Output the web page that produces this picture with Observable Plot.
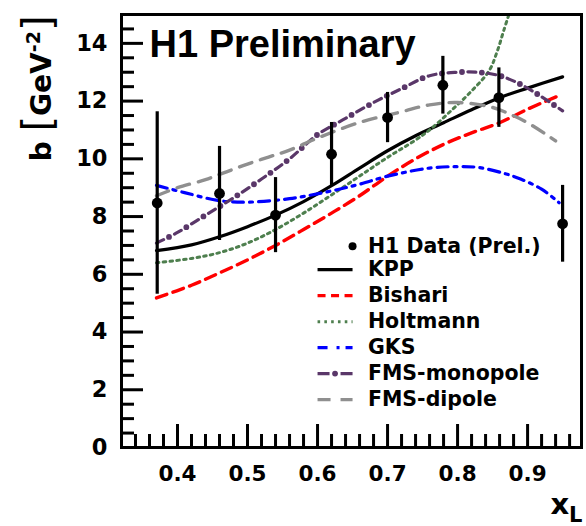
<!DOCTYPE html>
<html>
<head>
<meta charset="utf-8">
<script src="https://cdn.jsdelivr.net/npm/d3@7"></script>
<script src="https://cdn.jsdelivr.net/npm/@observablehq/plot@0.6"></script>
<style>
  html, body { margin: 0; padding: 0; background: #fff; }
  svg { display: block; }
</style>
</head>
<body>
<div id="chart"></div>
<script>
// ---------------- data ----------------
const h1X   = [0.371, 0.460, 0.540, 0.620, 0.700, 0.779, 0.859, 0.950];
const h1B   = [8.47, 8.80, 8.05, 10.16, 11.43, 12.55, 12.12, 7.75];
const h1Err = [3.16, 1.63, 1.30, 1.10, 0.87, 1.00, 1.03, 1.33];

const kppX = [0.37, 0.42, 0.46, 0.50, 0.54, 0.58, 0.62, 0.66, 0.70, 0.74, 0.78, 0.82, 0.86, 0.90, 0.95];
const kppY = [6.82, 7.02, 7.30, 7.65, 8.05, 8.52, 9.07, 9.68, 10.28, 10.80, 11.25, 11.70, 12.12, 12.45, 12.84];

const bishariX = [0.37, 0.42, 0.46, 0.50, 0.54, 0.58, 0.62, 0.66, 0.70, 0.74, 0.78, 0.82, 0.86, 0.90, 0.943];
const bishariY = [5.18, 5.62, 6.05, 6.50, 7.00, 7.55, 8.12, 8.72, 9.40, 10.00, 10.50, 10.90, 11.25, 11.72, 12.17];

const holtmannX = [0.37, 0.42, 0.46, 0.50, 0.54, 0.58, 0.62, 0.66, 0.70, 0.74, 0.76, 0.79, 0.82, 0.845, 0.857, 0.866, 0.876];
const holtmannY = [6.40, 6.55, 6.75, 7.08, 7.55, 8.12, 8.75, 9.40, 10.05, 10.65, 11.00, 11.65, 12.35, 13.05, 13.75, 14.45, 15.2];

const gksX = [0.37, 0.41, 0.46, 0.50, 0.56, 0.62, 0.66, 0.70, 0.76, 0.80, 0.83, 0.866, 0.89, 0.92, 0.945];
const gksY = [9.08, 8.83, 8.55, 8.50, 8.62, 8.89, 9.12, 9.40, 9.68, 9.73, 9.70, 9.50, 9.30, 8.95, 8.48];

const monoX = [0.37, 0.40, 0.44, 0.48, 0.52, 0.56, 0.60, 0.64, 0.68, 0.72, 0.76, 0.80, 0.83, 0.86, 0.89, 0.92, 0.95];
const monoY = [7.08, 7.45, 8.05, 8.65, 9.30, 10.00, 10.84, 11.40, 11.95, 12.43, 12.88, 13.00, 13.00, 12.88, 12.58, 12.15, 11.66];

const dipoleX = [0.37, 0.40, 0.44, 0.47, 0.50, 0.53, 0.56, 0.60, 0.66, 0.72, 0.76, 0.80, 0.85, 0.88, 0.90, 0.933, 0.94];
const dipoleY = [8.72, 9.00, 9.28, 9.55, 9.82, 10.06, 10.30, 10.72, 11.26, 11.63, 11.87, 11.95, 11.78, 11.49, 11.25, 10.74, 10.62];

const xMajorTicks = [0.4, 0.5, 0.6, 0.7, 0.8, 0.9];
const xMinorTicks = [0.34, 0.36, 0.38, 0.42, 0.44, 0.46, 0.48, 0.52, 0.54, 0.56, 0.58,
                     0.62, 0.64, 0.66, 0.68, 0.72, 0.74, 0.76, 0.78, 0.82, 0.84, 0.86, 0.88,
                     0.92, 0.94, 0.96];
const yMajorTicks = [0, 2, 4, 6, 8, 10, 12, 14];
const yMinorTicks = [0.5, 1, 1.5, 2.5, 3, 3.5, 4.5, 5, 5.5, 6.5, 7, 7.5, 8.5, 9, 9.5,
                     10.5, 11, 11.5, 12.5, 13, 13.5, 14.5];

const titleText = "H1 Preliminary";
const yLabelText = "b [GeV-2]";
const xLabelText = "xL";
const dataLabel = "H1 Data (Prel.)";
const seriesNames = ["KPP", "Bishari", "Holtmann", "GKS", "FMS-monopole", "FMS-dipole"];

// ---------------- styles / layout ----------------
const W = 586, H = 526;
const mL = 121, mR = 5, mT = 14, mB = 79;
const frameW = W - mL - mR, frameH = H - mT - mB;

const styles = {
  "KPP":          {stroke: "#000000", width: 3.2, dash: null, legendDash: null},
  "Bishari":      {stroke: "#ff0000", width: 3.4, dash: "11,6.5", legendDash: "8,5.5"},
  "Holtmann":     {stroke: "#4e7f4e", width: 3, dash: "2.6,4.2", legendDash: "2.6,4.2"},
  "GKS":          {stroke: "#0000ff", width: 3.2, dash: "11,6,3,6", legendDash: "10,9,3,6"},
  "FMS-monopole": {stroke: "#5a3769", width: 3.2, dash: "8,12", legendDash: "12,11,12", dots: true},
  "FMS-dipole":   {stroke: "#8f8f8f", width: 3.4, dash: "13,9", legendDash: "13,10"}
};
const seriesData = {
  "KPP": [kppX, kppY], "Bishari": [bishariX, bishariY], "Holtmann": [holtmannX, holtmannY],
  "GKS": [gksX, gksY], "FMS-monopole": [monoX, monoY], "FMS-dipole": [dipoleX, dipoleY]
};

// legend layout (data units)
const legX0 = 0.600, legX1 = 0.650, legTextX = 0.672;
const legDataY = 6.97, legY0 = 6.16, legStep = 0.9;
const legFont = 20.5;

const points = h1X.map((x, i) => ({x, b: h1B[i], lo: h1B[i] - h1Err[i], hi: h1B[i] + h1Err[i]}));

const marks = [];

// curves
for (const name of seriesNames) {
  const [xs, ys] = seriesData[name];
  const rows = xs.map((x, i) => ({x, y: ys[i]}));
  const s = styles[name];
  marks.push(Plot.line(rows, {x: "x", y: "y", curve: "catmull-rom", stroke: s.stroke,
    strokeWidth: s.width, strokeDasharray: s.dash, clip: true}));
  if (s.dots) {
    marks.push(Plot.line(rows, {x: "x", y: "y", curve: "catmull-rom", stroke: s.stroke,
      strokeWidth: 5.8, strokeDasharray: "0,20", strokeDashoffset: -14, strokeLinecap: "round", clip: true}));
  }
}

// data points with error bars
marks.push(Plot.ruleX(points, {x: "x", y1: "lo", y2: "hi", stroke: "black", strokeWidth: 3.2}));
marks.push(Plot.dot(points, {x: "x", y: "b", r: 5.4, fill: "black", stroke: "none"}));

// legend
marks.push(Plot.dot([dataLabel], {x: () => legX1, y: () => legDataY, r: 4, fill: "black"}));
marks.push(Plot.text([dataLabel], {x: () => legTextX, y: () => legDataY, text: d => d,
  textAnchor: "start", fontSize: legFont, fontWeight: "bold", fontFamily: "DejaVu Sans", fill: "black"}));
seriesNames.forEach((name, i) => {
  const s = styles[name];
  const yy = legY0 - i * legStep;
  marks.push(Plot.link([name], {x1: () => legX0, x2: () => legX1, y1: () => yy, y2: () => yy,
    stroke: s.stroke, strokeWidth: s.width, strokeDasharray: s.legendDash}));
  if (s.dots) {
    marks.push(Plot.link([name], {x1: () => legX0, x2: () => legX1, y1: () => yy, y2: () => yy,
      stroke: s.stroke, strokeWidth: 5.8, strokeDasharray: "0,100", strokeDashoffset: -17.5, strokeLinecap: "round"}));
  }
  marks.push(Plot.text([name], {x: () => legTextX, y: () => yy, text: d => d,
    textAnchor: "start", fontSize: legFont, fontWeight: "bold", fontFamily: "DejaVu Sans", fill: "black"}));
});

// inward ticks
marks.push(Plot.tickX(xMajorTicks, {x: d => d, stroke: "black", strokeWidth: 3, insetTop: frameH - 23}));
marks.push(Plot.tickX(xMinorTicks, {x: d => d, stroke: "black", strokeWidth: 3, insetTop: frameH - 13}));
marks.push(Plot.tickY(yMajorTicks.filter(d => d > 0), {y: d => d, stroke: "black", strokeWidth: 3, insetRight: frameW - 22}));
marks.push(Plot.tickY(yMinorTicks, {y: d => d, stroke: "black", strokeWidth: 3, insetRight: frameW - 13}));

// axes labels
marks.push(Plot.axisX(xMajorTicks, {tickSize: 0, tickPadding: 18, tickFormat: d => d.toFixed(1),
  fontSize: 21.5, fontWeight: "bold", fontFamily: "DejaVu Sans", label: null}));
marks.push(Plot.axisY(yMajorTicks, {tickSize: 0, tickPadding: 14, tickFormat: d => String(d),
  fontSize: 22.5, fontWeight: "bold", fontFamily: "DejaVu Sans", label: null}));

// frame
marks.push(Plot.frame({stroke: "black", strokeWidth: 3}));

// title and axis titles
marks.push(Plot.text([titleText], {frameAnchor: "top-left", text: d => d, dx: 28, dy: 42.5,
  lineAnchor: "bottom", textAnchor: "start", fontSize: 38, fontWeight: "bold",
  fontFamily: "Liberation Sans", fill: "black"}));
marks.push(Plot.text([yLabelText], {frameAnchor: "top-left", text: d => d, dx: -71, dy: 1,
  rotate: -90, lineAnchor: "bottom", textAnchor: "end", fontSize: 28, fontWeight: "bold",
  fontFamily: "DejaVu Sans", fill: "black"}));
marks.push(Plot.text([xLabelText], {frameAnchor: "bottom-right", text: d => d, dx: 1, dy: 66,
  lineAnchor: "bottom", textAnchor: "end", fontSize: 29, fontWeight: "bold",
  fontFamily: "DejaVu Sans", fill: "black"}));

const chart = Plot.plot({
  width: W, height: H,
  marginLeft: mL, marginRight: mR, marginTop: mT, marginBottom: mB,
  x: {domain: [0.32, 0.977]},
  y: {domain: [0, 15]},
  style: {background: "white", color: "black", fontFamily: "DejaVu Sans"},
  marks
});
document.getElementById("chart").appendChild(chart);

// rich text: superscript / subscript
d3.select(chart).selectAll("text").each(function () {
  const el = d3.select(this);
  if (this.textContent === yLabelText) {
    el.text(null);
    const parts = [
      {t: "b ", size: 28},
      {t: "[", size: 40, weight: "normal"},
      {t: "GeV", size: 28},
      {t: "-2", size: 19, dy: -11},
      {t: "]", size: 40, weight: "normal", dy: 11}
    ];
    for (const p of parts) {
      const ts = el.append("tspan").text(p.t).attr("font-size", p.size);
      if (p.weight) ts.attr("font-weight", p.weight);
      if (p.dy) ts.attr("dy", p.dy);
    }
  } else if (this.textContent === xLabelText) {
    el.text(null);
    el.append("tspan").text("x").attr("font-size", 29);
    el.append("tspan").text("L").attr("font-size", 21).attr("dy", 8);
  }
});
</script>
</body>
</html>
